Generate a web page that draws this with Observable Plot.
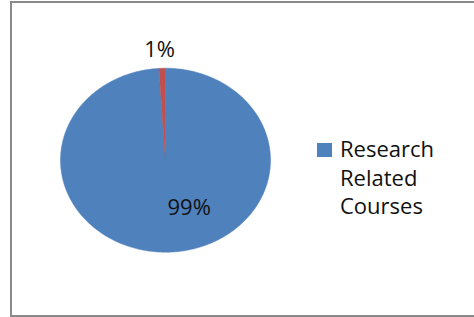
<!DOCTYPE html>
<html>
<head>
<meta charset="utf-8">
<script src="https://cdn.jsdelivr.net/npm/d3@7"></script>
<script src="https://cdn.jsdelivr.net/npm/@observablehq/plot@0.6"></script>
<style>
  html, body { margin: 0; padding: 0; background: #fff; overflow: hidden; }
  #wrap { position: relative; width: 474px; height: 317px; }
  #border { position: absolute; left: 10px; top: 1px; width: 480px; height: 312px;
            border: 2px solid #8a8a8a; pointer-events: none; }
  #legend { position: absolute; left: 317px; top: 134px; font-family: "Open Sans", sans-serif;
            font-size: 22px; line-height: 28.5px; color: #111; }
  .sw { position: absolute; left: 0; top: 9px; width: 15px; height: 14px; }
  .lt { position: absolute; left: 23px; top: 0; white-space: pre; }
</style>
</head>
<body>
<div id="wrap"><div id="border"></div><div id="legend"></div></div>
<script>
const categories = ["Research Related Courses", ""];
const values = [99, 1];
const colors = ["#4F81BD", "#C0504D"];
const legendLines = ["Research", "Related", "Courses"];

const total = d3.sum(values);
const arcs = d3.pie().sort(null).value(d => d)(values);

function slicePoints(a, i) {
  const pts = [{x: 0, y: 0, k: i}];
  const n = Math.max(4, Math.ceil((a.endAngle - a.startAngle) / (2 * Math.PI) * 360));
  for (let j = 0; j <= n; j++) {
    const t = a.startAngle + (a.endAngle - a.startAngle) * j / n;
    pts.push({x: Math.sin(t), y: Math.cos(t), k: i});
  }
  pts.push({x: 0, y: 0, k: i});
  return pts;
}

const labels = arcs.map((a, i) => {
  const mid = (a.startAngle + a.endAngle) / 2;
  const pct = Math.round(values[i] / total * 100) + "%";
  return {mid, pct, i};
});
const outside = labels.filter(d => values[d.i] / total < 0.05).map(d => ({x: 1.2 * Math.sin(d.mid), y: 1.2 * Math.cos(d.mid), t: d.pct}));
const inside = labels.filter(d => values[d.i] / total >= 0.05).map(d => ({x: 0.516 * Math.sin(d.mid), y: 0.516 * Math.cos(d.mid), t: d.pct}));

const marks = arcs.map((a, i) => Plot.line(slicePoints(a, i), {
  x: "x", y: "y", fill: colors[i], stroke: colors[i], strokeWidth: 0.5, curve: "linear"
}));
marks.push(Plot.text(outside, {x: "x", y: "y", text: "t", dx: -2, fill: "#111", textAnchor: "middle"}));
marks.push(Plot.text(inside, {x: "x", y: "y", text: "t", dx: 22, fill: "#111", textAnchor: "middle"}));

const chart = Plot.plot({
  width: 474, height: 317,
  margin: 0,
  x: {domain: [-1, 1], range: [60, 270], axis: null},
  y: {domain: [-1, 1], range: [251.7, 67.7], axis: null},
  style: {fontFamily: "Open Sans, sans-serif", fontSize: "22px", background: "white", overflow: "visible"},
  marks
});
chart.style.position = "absolute";
chart.style.left = "0";
chart.style.top = "0";
const wrap = document.getElementById("wrap");
wrap.insertBefore(chart, wrap.firstChild);

const legend = document.getElementById("legend");
categories.forEach((c, i) => {
  if (!c) return;
  const sw = document.createElement("div");
  sw.className = "sw";
  sw.style.background = colors[i];
  legend.appendChild(sw);
  const lt = document.createElement("div");
  lt.className = "lt";
  lt.textContent = legendLines.join("\n");
  legend.appendChild(lt);
});
</script>
</body>
</html>
